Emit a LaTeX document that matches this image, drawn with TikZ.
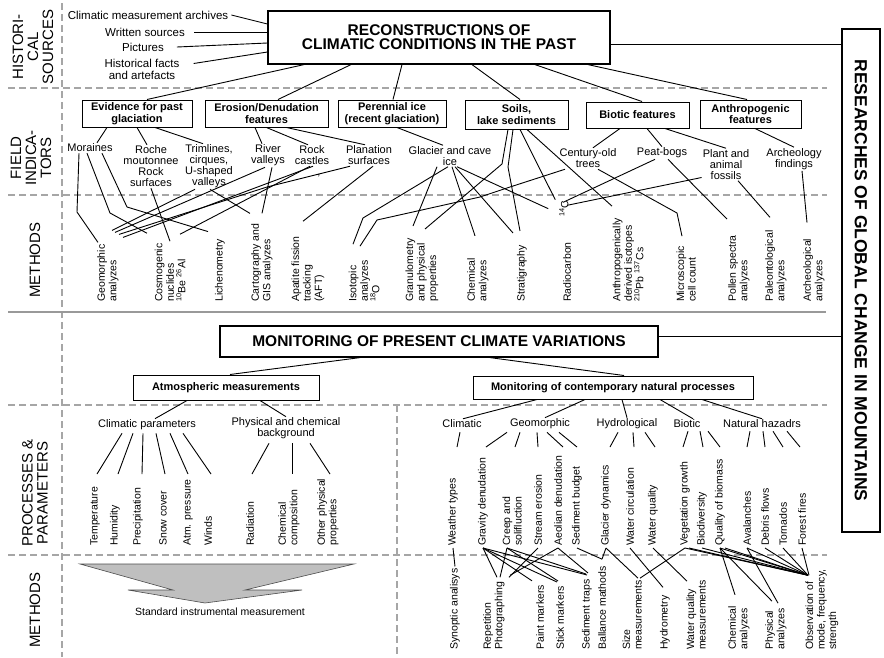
\documentclass[tikz,border=0pt]{standalone}
\usepackage{fontspec}
\setmainfont{Liberation Sans}
\begin{document}
\begin{tikzpicture}[x=1pt,y=-1pt,
  rowlbl/.style={rotate=90,align=center,font=\fontsize{15}{15}\selectfont},
  bigbox/.style={draw,line width=1.2pt,align=center,inner sep=1pt,font=\bfseries\fontsize{15.5}{14}\selectfont},
  grpbox/.style={draw,line width=1pt,align=center,inner sep=1pt,font=\bfseries\fontsize{11}{11.5}\selectfont},
  ind/.style={align=center,inner sep=1pt,font=\fontsize{11}{11}\selectfont},
  src/.style={align=center,inner sep=1pt,font=\fontsize{11.5}{12.5}\selectfont},
  meth/.style={rotate=90,anchor=west,align=left,inner sep=2pt,font=\fontsize{10.5}{11.5}\selectfont},
  link/.style={line width=0.9pt},
  sep/.style={draw=black!35,line width=1.6pt,dash pattern=on 7pt off 4pt}]
\useasboundingbox (0,0) rectangle (884,657);
\draw[sep] (62,3) -- (62,657);
\draw[sep] (8,88) -- (827,88);
\draw[sep] (8,195) -- (827,195);
\draw[black!40,line width=1.6pt] (8,312) -- (826,312);
\draw[sep] (8,405) -- (827,405);
\draw[sep] (8,555) -- (827,555);
\draw[sep] (397,405) -- (397,657);

\node[rowlbl] (hist) at (33,47) {HISTORI-\\CAL\\SOURCES};
\node[rowlbl] (field) at (31,158) {FIELD\\INDICA-\\TORS};
\node[rowlbl] (meth1) at (35,260) {METHODS};
\node[rowlbl] (proc) at (35,493) {PROCESSES \&\\PARAMETERS};
\node[rowlbl] (meth2) at (35,610) {METHODS};

\node[bigbox,minimum width=342pt,minimum height=53pt] (recon) at (439,37.5) {RECONSTRUCTIONS OF\\CLIMATIC CONDITIONS IN THE PAST};
\node[bigbox,minimum width=438pt,minimum height=31pt] (monit) at (439,341.5) {MONITORING OF PRESENT CLIMATE VARIATIONS};
\node[draw,line width=1.2pt,rotate=-90,minimum width=503pt,minimum height=38pt,inner sep=1pt,font=\bfseries\fontsize{17.5}{17}\selectfont] (research) at (861,280.5) {RESEARCHES OF GLOBAL CHANGE IN MOUNTAINS};

\node[src] (src1) at (148,15) {Climatic measurement archives};
\node[src] (src2) at (145,32) {Written sources};
\node[src] (src3) at (143,47) {Pictures};
\node[src] (src4) at (142,69.5) {Historical facts\\and artefacts};
\draw[link] ([xshift=2pt]src1.east) -- ([yshift=13.5pt]recon.west);
\draw[link] ([xshift=8pt]src2.east) -- ([yshift=5.5pt]recon.west);
\draw[link] ([xshift=12pt]src3.east) -- ([yshift=-5.5pt]recon.west);
\draw[link] ([xshift=13pt,yshift=6pt]src4.east) -- ([yshift=-14.5pt]recon.west);
\coordinate (rline) at ([yshift=-6.5pt]recon.east);
\draw[link] (rline) -- (rline -| research.south);
\coordinate (mline) at ([yshift=5.5pt]monit.east);
\draw[link] (mline) -- (mline -| research.south);

\node[grpbox,minimum width=110pt,minimum height=27pt] (evid) at (137,113.5) {Evidence for past\\glaciation};
\node[grpbox,minimum width=123pt,minimum height=27pt] (eros) at (266.5,113.5) {Erosion/Denudation\\features};
\node[grpbox,minimum width=108pt,minimum height=27pt] (peren) at (392,113.5) {Perennial ice\\(recent glaciation)};
\node[grpbox,minimum width=103pt,minimum height=29pt] (soils) at (516.5,114.5) {Soils,\\lake sediments};
\node[grpbox,minimum width=103pt,minimum height=26pt] (biotic) at (637.5,115) {Biotic features};
\node[grpbox,minimum width=101pt,minimum height=28pt] (anthro) at (750.5,114) {Anthropogenic\\features};
\draw[link] ([xshift=-135pt]recon.south) -- ([xshift=10pt]evid.north);
\draw[link] ([xshift=-88pt]recon.south) -- ([xshift=11.5pt]eros.north);
\draw[link] ([xshift=-37pt]recon.south) -- ([xshift=1pt]peren.north);
\draw[link] ([xshift=33pt]recon.south) -- ([xshift=3.5pt]soils.north);
\draw[link] ([xshift=96pt]recon.south) -- ([xshift=4.5pt]biotic.north);
\draw[link] ([xshift=149pt]recon.south) -- ([xshift=-3.5pt]anthro.north);

\node[ind] (moraines) at (90,148) {Moraines};
\node[ind] (roche) at (151,166.5) {Roche\\moutonnee\\Rock\\surfaces};
\node[ind] (trim) at (209,166.5) {Trimlines,\\cirques,\\U-shaped\\valleys};
\node[ind] (river) at (268,155.5) {River\\valleys};
\node[ind] (castles) at (312,155.5) {Rock\\castles};
\node[ind,inner sep=0pt] (comma) at (319,176) {,};
\node[ind] (planation) at (369,155.5) {Planation\\surfaces};
\node[ind] (glacier) at (450,156) {Glacier and cave\\ice};
\node[ind] (century) at (588,158.5) {Century-old\\trees};
\node[ind] (peat) at (662,153) {Peat-bogs};
\node[ind] (fossils) at (726,164.5) {Plant and\\animal\\fossils};
\node[ind] (archeo) at (794,159) {Archeology\\findings};
\draw[link] ([xshift=-30pt]evid.south) -- ([xshift=7pt]moraines.north);
\draw[link] (evid.south) -- ([xshift=-4pt]roche.north);
\draw[link] ([xshift=18pt]evid.south) -- ([xshift=-6pt]trim.north);
\draw[link] ([xshift=-11.5pt]eros.south) -- ([xshift=-6pt]river.north);
\draw[link] (eros.south) -- ([xshift=-4pt]castles.north);
\draw[link] ([xshift=20pt]eros.south) -- ([xshift=-4pt]planation.north);
\draw[link] ([xshift=5pt]peren.south) -- ([xshift=-7pt]glacier.north);
\draw[link] ([xshift=-17.5pt]biotic.south) -- ([xshift=5pt]century.north);
\draw[link] ([xshift=9.5pt]biotic.south) -- (peat.north);
\draw[link] ([xshift=27.5pt]biotic.south) -- (fossils.north);
\draw[link] ([xshift=4.5pt]anthro.south) -- (archeo.north);

\node[meth] (geo) at (108,304) {Geomorphic\\analyzes};
\node[meth] (cosmo) at (170,304) {Cosmogenic\\nuclides\\\textsuperscript{10}Be \textsuperscript{26}Al};
\node[meth] (lichen) at (220,304) {Lichenometry};
\node[meth] (carto) at (262,304) {Cartography and\\GIS analyzes};
\node[meth] (apatite) at (308,304) {Apatite fission\\tracking\\(AFT)};
\node[meth] (isotopic) at (364,304) {Isotopic\\analyzes\\\textsuperscript{18}O};
\node[meth] (granulo) at (422,304) {Granulometry\\and physical\\properties};
\node[meth] (chem1) at (478,304) {Chemical\\analyzes};
\node[meth] (strat) at (522,304) {Stratigraphy};
\node[meth] (radio) at (567,304) {Radiocarbon};
\node[meth,inner sep=1pt] (c14) at (564,218) {\textsuperscript{14}C};
\node[meth] (anthropo) at (628,304) {Anthropogenically\\derived isotopes\\\textsuperscript{210}Pb \textsuperscript{137}Cs};
\node[meth] (micro) at (686,304) {Microscopic\\cell count};
\node[meth] (pollen) at (739,304) {Pollen spectra\\analyzes};
\node[meth] (paleo) at (776,304) {Paleontological\\analyzes};
\node[meth] (archmeth) at (814,304) {Archeological\\analyzes};

\draw[link] ([xshift=-11pt]moraines.south) -- (77,212) -- ([xshift=-10pt]geo.east);
\draw[link] ([xshift=-3pt]moraines.south) -- (110,213) -- ([xshift=-23pt,yshift=8pt]cosmo.east);
\draw[link] ([xshift=12pt]moraines.south) -- (127,207) -- ([xshift=-12pt,yshift=5pt]lichen.east);
\draw[link] (roche.south) -- (cosmo.east);
\draw[link] ([xshift=-14pt]trim.south) -- ([xshift=4pt,yshift=12pt]geo.east);
\draw[link] ([xshift=1pt]trim.south) -- ([xshift=-12pt,yshift=8pt]carto.east);
\draw[link] ([xshift=-3pt]river.south) -- ([xshift=7pt,yshift=10pt]geo.east);
\draw[link] ([xshift=4pt]river.south) -- ([yshift=8pt]carto.east);
\draw[link] ([xshift=1pt]castles.south) -- ([xshift=15pt,yshift=5pt]geo.east);
\draw[link] ([xshift=-2pt]castles.south) -- ([xshift=10pt,yshift=7pt]cosmo.east);
\draw[link] ([xshift=-19pt]planation.south) -- (267,187) -- ([xshift=11pt,yshift=8pt]geo.east);
\draw[link] ([xshift=4pt]planation.south) -- ([xshift=-5pt,yshift=13pt]apatite.east);
\draw[link] ([xshift=-2pt]glacier.south) -- (363,218) -- ([xshift=-11pt,yshift=14pt]isotopic.east);
\draw[link] ([xshift=-13pt]glacier.south) -- ([xshift=-9pt,yshift=10pt]granulo.east);
\draw[link] ([xshift=2pt]glacier.south) -- ([xshift=-3pt,yshift=20pt]chem1.east);
\draw[link] ([xshift=5pt]glacier.south) -- ([xshift=-9pt,yshift=10pt]strat.east);
\draw[link] ([xshift=7pt]glacier.south) -- ([xshift=-10pt]c14.north);
\draw[link] ([xshift=-8.5pt]soils.south) -- (502,164) -- ([xshift=3pt,yshift=7pt]granulo.east);
\draw[link] ([xshift=-3.5pt]soils.south) -- (508,167) -- ([xshift=-2pt,yshift=12pt]strat.east);
\draw[link] ([xshift=3.5pt]soils.south) -- ([xshift=-3pt,yshift=9pt]c14.north);
\draw[link] ([xshift=10.5pt]soils.south) -- ([xshift=-16pt,yshift=10pt]anthropo.east);
\draw[link] ([xshift=-23pt]century.south) -- (510,187) -- (480,197) -- (377,220) -- ([xshift=-4pt,yshift=12pt]isotopic.east);
\draw[link] ([xshift=10pt]century.south) -- (677,213) -- ([xshift=-4pt,yshift=8pt]micro.east);
\draw[link] ([xshift=-7pt]peat.south) -- ([xshift=-1pt,yshift=-3pt]c14.east);
\draw[link] ([xshift=6pt]peat.south) -- ([xshift=-12pt,yshift=14pt]pollen.east);
\draw[link] ([yshift=-13pt]fossils.west) -- ([xshift=3pt,yshift=-6pt]c14.east);
\draw[link] ([xshift=12pt]fossils.south) -- ([xshift=-6pt,yshift=11pt]paleo.east);
\draw[link] ([xshift=8pt]archeo.south) -- ([xshift=-7pt,yshift=14pt]archmeth.east);

\node[grpbox,minimum width=186pt,minimum height=25pt] (atmbox) at (226,387.5) {Atmospheric measurements};
\node[grpbox,minimum width=280pt,minimum height=23pt] (monbox) at (613,387.5) {Monitoring of contemporary natural processes};
\draw[link] ([xshift=-79pt]monit.south) -- ([xshift=4pt]atmbox.north);
\draw[link] ([xshift=51pt]monit.south) -- ([xshift=11pt]monbox.north);

\node[ind] (climpar) at (147,425) {Climatic parameters};
\node[ind] (physchem) at (286,428.5) {Physical and chemical\\background};
\draw[link] ([xshift=-39pt]atmbox.south) -- ([xshift=8pt]climpar.north);
\draw[link] ([xshift=34pt]atmbox.south) -- (physchem.north);
\coordinate (ptop) at (0,474);
\node[meth] (temp) at (95,548) {Temperature};
\node[meth] (humid) at (115,548) {Humidity};
\node[meth] (precip) at (138,548) {Precipitation};
\node[meth] (snow) at (163,548) {Snow cover};
\node[meth] (atm) at (188,548) {Atm. pressure};
\node[meth] (winds) at (208,548) {Winds};
\node[meth] (radiation) at (250,548) {Radiation};
\node[meth] (chemcomp) at (289,548) {Chemical\\composition};
\node[meth] (other) at (328,548) {Other physical\\properties};
\draw[link] ([xshift=-25pt,yshift=-2pt]climpar.south) -- ([xshift=2pt]temp |- ptop);
\draw[link] ([xshift=-14pt,yshift=-2pt]climpar.south) -- ([xshift=3pt]humid |- ptop);
\draw[link] ([xshift=-4pt,yshift=-2pt]climpar.south) -- ([xshift=4pt]precip |- ptop);
\draw[link] ([xshift=9pt,yshift=-2pt]climpar.south) -- ([xshift=2pt]snow |- ptop);
\draw[link] ([xshift=23pt,yshift=-2pt]climpar.south) -- (atm |- ptop);
\draw[link] ([xshift=36pt,yshift=-2pt]climpar.south) -- ([xshift=3pt]winds |- ptop);
\draw[link] ([xshift=-17pt,yshift=-3pt]physchem.south) -- ([xshift=2pt]radiation |- ptop);
\draw[link] ([xshift=6pt,yshift=-3pt]physchem.south) -- ([xshift=3pt]chemcomp |- ptop);
\draw[link] ([xshift=24pt,yshift=-3pt]physchem.south) -- ([xshift=2pt]other |- ptop);

\node[ind] (climatic) at (462,424) {Climatic};
\node[ind] (geomorph) at (540,424) {Geomorphic};
\node[ind] (hydro) at (627,424) {Hydrological};
\node[ind] (biotic2) at (687,424) {Biotic};
\node[ind] (hazards) at (762,424) {Natural hazadrs};
\draw[link] ([xshift=-76pt]monbox.south) -- ([xshift=1pt]climatic.north);
\draw[link] ([xshift=-28pt]monbox.south) -- ([xshift=5pt]geomorph.north);
\draw[link] ([xshift=9pt]monbox.south) -- (hydro.north);
\draw[link] ([xshift=47pt]monbox.south) -- ([xshift=6pt]biotic2.north);
\draw[link] ([xshift=89pt]monbox.south) -- (hazards.north);

\coordinate (qtop) at (0,447);
\node[meth] (weather) at (453,548) {Weather types};
\node[meth] (gravity) at (483,548) {Gravity denudation};
\node[meth] (creep) at (512,548) {Creep and\\solifluction};
\node[meth] (stream) at (538,548) {Stream erosion};
\node[meth] (aeolian) at (558,548) {Aeolian denudation};
\node[meth] (sedbudget) at (577,548) {Sediment budget};
\node[meth] (glacdyn) at (606,548) {Glacier dynamics};
\node[meth] (watcirc) at (630,548) {Water circulation};
\node[meth] (watqual) at (653,548) {Water quality};
\node[meth] (veg) at (685,548) {Vegetation growth};
\node[meth] (biodiv) at (702,548) {Biodiversity};
\node[meth] (qualbio) at (720,548) {Quality of biomass};
\node[meth] (aval) at (747,548) {Avalanches};
\node[meth] (debris) at (765,548) {Debris flows};
\node[meth] (tornado) at (783,548) {Tornados};
\node[meth] (fires) at (802,548) {Forest fires};
\draw[link] ([xshift=-2pt,yshift=-3pt]climatic.south) -- ([xshift=4pt]weather |- qtop);
\draw[link] ([xshift=-33pt,yshift=-2pt]geomorph.south) -- ([xshift=3pt]gravity |- qtop);
\draw[link] ([xshift=-20pt,yshift=-2pt]geomorph.south) -- ([xshift=3pt]creep |- qtop);
\draw[link] ([xshift=-3pt,yshift=-2pt]geomorph.south) -- (stream |- qtop);
\draw[link] ([xshift=7pt,yshift=-2pt]geomorph.south) -- ([xshift=5pt]aeolian |- qtop);
\draw[link] ([xshift=19pt,yshift=-2pt]geomorph.south) -- (sedbudget |- qtop);
\draw[link] ([xshift=-9pt,yshift=-2pt]hydro.south) -- ([xshift=4pt]glacdyn |- qtop);
\draw[link] ([xshift=6pt,yshift=-2pt]hydro.south) -- ([xshift=4pt]watcirc |- qtop);
\draw[link] ([xshift=18pt,yshift=-2pt]hydro.south) -- ([xshift=2pt]watqual |- qtop);
\draw[link] ([xshift=1pt,yshift=-2pt]biotic2.south) -- ([xshift=-2pt]veg |- qtop);
\draw[link] ([xshift=13pt,yshift=-2pt]biotic2.south) -- ([xshift=1pt]biodiv |- qtop);
\draw[link] ([xshift=21pt,yshift=-2pt]biotic2.south) -- (qualbio |- qtop);
\draw[link] ([xshift=-12pt,yshift=-2pt]hazards.south) -- (aval |- qtop);
\draw[link] ([xshift=1pt,yshift=-2pt]hazards.south) -- (debris |- qtop);
\draw[link] ([xshift=11pt,yshift=-2pt]hazards.south) -- (tornado |- qtop);
\draw[link] ([xshift=25pt,yshift=-2pt]hazards.south) -- ([xshift=-2pt]fires |- qtop);

\node[meth] (synoptic) at (455,652) {Synoptic analisys};
\node[meth] (repphoto) at (494,652) {Repetition\\Photographing};
\node[meth] (paint) at (540,652) {Paint markers};
\node[meth] (stick) at (560,652) {Stick markers};
\node[meth] (sedtraps) at (587,652) {Sediment traps};
\node[meth] (ballance) at (602,652) {Ballance mathods};
\node[meth] (size) at (632,652) {Size\\measurements};
\node[meth] (hydrometry) at (665,652) {Hydrometry};
\node[meth] (wqmeas) at (696,652) {Water quality\\measurements};
\node[meth] (chem2) at (739,652) {Chemical\\analyzes};
\node[meth] (phys) at (776,652) {Physical\\analyzes};
\node[meth] (observ) at (822,652) {Observation of\\mode, frequency,\\strength};
\draw[link] (weather.west) -- (synoptic.east);
\draw[link] (gravity.west) -- ([xshift=3pt,yshift=2pt]repphoto.east);
\draw[link] (gravity.west) -- ([xshift=-8pt,yshift=2pt]paint.east);
\draw[link] (gravity.west) -- ([xshift=-3pt,yshift=2pt]stick.east);
\draw[link] (gravity.west) -- ([yshift=2pt]sedtraps.east);
\draw[link] ([xshift=-5pt]creep.west) -- ([xshift=6pt,yshift=2pt]repphoto.east);
\draw[link] ([xshift=-5pt]creep.west) -- ([xshift=-2pt,yshift=3pt]stick.east);
\draw[link] ([xshift=-5pt]creep.west) -- ([xshift=-1pt,yshift=3pt]sedtraps.east);
\draw[link] (stream.west) -- ([xshift=15pt,yshift=2pt]repphoto.east);
\draw[link] (aeolian.west) -- ([xshift=16pt,yshift=4pt]repphoto.east);
\draw[link] (aeolian.west) -- ([xshift=1pt,yshift=4pt]sedtraps.east);
\draw[link] (sedbudget.west) -- ([yshift=5pt]ballance.east);
\draw[link] (glacdyn.west) -- ([yshift=5pt]ballance.east);
\draw[link] (glacdyn.west) -- ([xshift=6pt]size.east);
\draw[link] (watcirc.west) -- ([xshift=-2pt,yshift=6pt]hydrometry.east);
\draw[link] (watqual.west) -- ([xshift=-9pt,yshift=-3pt]wqmeas.east);
\draw[link] (veg.west) -- ([xshift=8pt]size.east);
\draw[link] (veg.west) -- ([xshift=-14pt,yshift=-8pt]observ.east);
\draw[link] ([xshift=4pt]veg.west) -- ([xshift=-14pt,yshift=-8pt]observ.east);
\draw[link] (biodiv.west) -- ([xshift=-14pt,yshift=-8pt]observ.east);
\draw[link] (qualbio.west) -- ([xshift=-4pt,yshift=9pt]chem2.east);
\draw[link] (qualbio.west) -- ([xshift=-4pt,yshift=5pt]phys.east);
\draw[link] (qualbio.west) -- ([xshift=-14pt,yshift=-8pt]observ.east);
\draw[link] ([xshift=5pt]qualbio.west) -- ([xshift=-14pt,yshift=-8pt]observ.east);
\draw[link] (aval.west) -- ([xshift=2pt,yshift=3pt]phys.east);
\draw[link] (aval.west) -- ([xshift=-14pt,yshift=-8pt]observ.east);
\draw[link] (debris.west) -- ([xshift=-14pt,yshift=-8pt]observ.east);
\draw[link] (tornado.west) -- ([xshift=-14pt,yshift=-8pt]observ.east);
\draw[link] (fires.west) -- ([xshift=-13pt,yshift=-8pt]observ.east);

\draw[fill=black!25,draw=black!70,line width=0.6pt] (80,564) -- (354,564) -- (245,590) -- (302,590) -- (205,603) -- (128,590) -- (173,590) -- cycle;
\node[ind,font=\fontsize{10.5}{11}\selectfont] (stdmeas) at (220,612) {Standard instrumental measurement};
\end{tikzpicture}
\end{document}
